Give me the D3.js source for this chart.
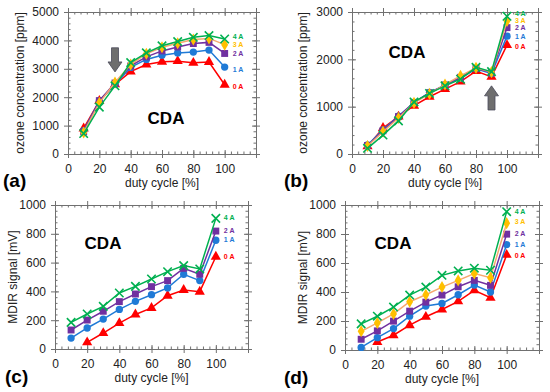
<!DOCTYPE html>
<html>
<head>
<meta charset="utf-8">
<script src="https://cdn.jsdelivr.net/npm/d3@7"></script>
<style>
  body { margin: 0; background: #fff; }
  svg { font-family: "Liberation Sans", Arial, sans-serif; }
</style>
</head>
<body>
<div id="chart"></div>
<script>
// duty cycle values shared by all panels
const duty = [10, 20, 30, 40, 50, 60, 70, 80, 90, 100];
const currents = ["0 A", "1 A", "2 A", "3 A", "4 A"];
const xTicks = [0, 20, 40, 60, 80, 100];

// (a) ozone concentration [ppm]
const ozoneA = [
  [900, 1870, 2450, 2900, 3150, 3250, 3270, 3210, 3240, 2440],
  [820, 1870, 2450, 3050, 3330, 3480, 3560, 3590, 3660, 3060],
  [780, 1880, 2500, 3100, 3420, 3630, 3770, 3890, 3930, 3540],
  [760, 1800, 2520, 3150, 3530, 3760, 3900, 4030, 4070, 3850],
  [720, 1650, 2400, 3220, 3560, 3810, 3960, 4110, 4170, 4050]
];
// (b) ozone concentration [ppm]
const ozoneB = [
  [160, 550, 790, 1020, 1210, 1370, 1530, 1750, 1630, 2300],
  [190, 510, 800, 1080, 1300, 1450, 1600, 1800, 1700, 2490],
  [180, 490, 790, 1090, 1290, 1460, 1620, 1810, 1720, 2670],
  [170, 470, 760, 1080, 1270, 1470, 1650, 1820, 1730, 2810],
  [120, 400, 700, 1100, 1280, 1440, 1580, 1830, 1740, 2910]
];
// (c) MDIR signal [mV], no 3 A series
const mdirC = [
  [null, 46, 111, 180, 240, 285, 370, 410, 398, 641],
  [76, 146, 208, 275, 331, 377, 424, 519, 475, 755],
  [132, 201, 262, 329, 382, 433, 475, 560, 519, 819],
  null,
  [185, 243, 296, 389, 435, 486, 537, 579, 556, 907]
];
// (d) MDIR signal [mV]
const mdirD = [
  [null, 55, 102, 171, 229, 279, 335, 411, 360, 656],
  [18, 85, 148, 233, 303, 321, 381, 448, 400, 727],
  [74, 132, 199, 268, 330, 379, 436, 480, 446, 799],
  [129, 187, 249, 333, 381, 434, 480, 527, 499, 875],
  [180, 233, 296, 379, 434, 515, 545, 564, 550, 954]
];

// where the "n A" labels sit, in y units
const labelsA = [2360, 2990, 3520, 3840, 4120];
const labelsB = [2280, 2490, 2670, 2815, 2960];
const labelsC = [642, 758, 820, null, 910];
const labelsD = [652, 727, 805, 883, 957];

const markerColor = ["#ff0000", "#1f7ad6", "#7030a0", "#ffc000", "#00b050"];
const lineColor = ["#ff0000", "#1f7ad6", "#7030a0", "#f6a86e", "#00b050"];
const symbols = [d3.symbolTriangle, d3.symbolCircle, d3.symbolSquare, d3.symbolDiamond, d3.symbolTimes];
const symbolSize = [45, 42, 48, 42, 48];

const panels = [
  { tag: "(a)", series: ozoneA, labels: labelsA, yMax: 5000, yMajor: 1000, yMinor: 200,
    yTitle: "ozone concentration [ppm]", left: 68, right: 256, top: 12, bottom: 154,
    yTitleX: 20, tagX: 3, tagY: 187, cda: [166, 124], arrow: { x: 30, from: 3740, to: 2890, dir: "down" } },
  { tag: "(b)", series: ozoneB, labels: labelsB, yMax: 3000, yMajor: 1000, yMinor: 200,
    yTitle: "ozone concentration [ppm]", left: 352, right: 538, top: 12, bottom: 154,
    yTitleX: 303, tagX: 284, tagY: 187, cda: [407, 58], arrow: { x: 90, from: 930, to: 1440, dir: "up" } },
  { tag: "(c)", series: mdirC, labels: labelsC, yMax: 1000, yMajor: 200, yMinor: 40,
    yTitle: "MDIR signal [mV]", left: 55, right: 248, top: 205, bottom: 349,
    yTitleX: 13, tagX: 5, tagY: 383, cda: [103, 249] },
  { tag: "(d)", series: mdirD, labels: labelsD, yMax: 1000, yMajor: 200, yMinor: 40,
    yTitle: "MDIR signal [mV]", left: 345, right: 539, top: 205, bottom: 350,
    yTitleX: 303, tagX: 284, tagY: 384, cda: [393, 249] }
];

const width = 550, height = 392;
const axisColor = "#707070";

const svg = d3.select("#chart").append("svg")
  .attr("width", width).attr("height", height);

function drawPanel(p) {
  const g = svg.append("g");
  const x = d3.scaleLinear().domain([0, 120]).range([p.left, p.right]);
  const y = d3.scaleLinear().domain([0, p.yMax]).range([p.bottom, p.top]);
  const xMinor = d3.range(0, 121, 4);
  const yMinor = d3.range(0, p.yMax + 1, p.yMinor);
  const yMajor = d3.range(0, p.yMax + 1, p.yMajor);
  const xMajor = d3.range(0, 121, 20);

  // minor ticks, pointing inward on all four sides
  g.append("g").attr("transform", `translate(0,${p.bottom})`)
    .call(d3.axisBottom(x).tickValues(xMinor).tickSize(-2.5).tickFormat(""));
  g.append("g").attr("transform", `translate(0,${p.top})`)
    .call(d3.axisTop(x).tickValues(xMinor).tickSize(-2.5).tickFormat(""));
  g.append("g").attr("transform", `translate(${p.left},0)`)
    .call(d3.axisLeft(y).tickValues(yMinor).tickSize(-2.5).tickFormat(""));
  g.append("g").attr("transform", `translate(${p.right},0)`)
    .call(d3.axisRight(y).tickValues(yMinor).tickSize(-2.5).tickFormat(""));

  // major ticks crossing the frame
  const xb = g.append("g").attr("transform", `translate(0,${p.bottom})`)
    .call(d3.axisBottom(x).tickValues(xMajor).tickSize(4).tickPadding(6)
      .tickFormat(d => xTicks.includes(d) ? d : ""));
  const xt = g.append("g").attr("transform", `translate(0,${p.top})`)
    .call(d3.axisTop(x).tickValues(xMajor).tickSize(4).tickFormat(""));
  const yl = g.append("g").attr("transform", `translate(${p.left},0)`)
    .call(d3.axisLeft(y).tickValues(yMajor).tickSize(4).tickPadding(5).tickFormat(d3.format("d")));
  const yr = g.append("g").attr("transform", `translate(${p.right},0)`)
    .call(d3.axisRight(y).tickValues(yMajor).tickSize(4).tickFormat(""));
  xb.selectAll(".tick line").attr("y1", -4);
  xt.selectAll(".tick line").attr("y1", 4);
  yl.selectAll(".tick line").attr("x1", 4);
  yr.selectAll(".tick line").attr("x1", -4);

  g.selectAll(".domain").attr("stroke", axisColor);
  g.selectAll(".tick line").attr("stroke", axisColor);
  g.selectAll(".tick text").attr("fill", "#222").style("font-size", "12px");

  // axis titles
  g.append("text")
    .attr("x", (p.left + p.right) / 2).attr("y", p.bottom + 33)
    .attr("text-anchor", "middle").style("font-size", "12px").attr("fill", "#222")
    .text("duty cycle [%]");
  g.append("text")
    .attr("transform", `translate(${p.yTitleX},${(p.top + p.bottom) / 2}) rotate(-90)`)
    .attr("text-anchor", "middle").attr("dy", "0.35em")
    .style("font-size", "12px").attr("fill", "#222")
    .text(p.yTitle);

  // gray arrow
  if (p.arrow) {
    const a = p.arrow;
    const ax = x(a.x), y0 = y(a.from), y1 = y(a.to);
    const s = a.dir === "down" ? 1 : -1;
    const headLen = 10 * s;
    const pts = [
      [ax - 3.5, y0], [ax + 3.5, y0], [ax + 3.5, y1 - headLen], [ax + 7, y1 - headLen],
      [ax, y1], [ax - 7, y1 - headLen], [ax - 3.5, y1 - headLen]
    ];
    g.append("path").attr("d", d3.line()(pts) + "Z")
      .attr("fill", "#6e6e6e").attr("stroke", "#4a4a5a").attr("stroke-width", 0.8);
  }

  // series lines and markers
  const line = d3.line()
    .defined(d => d[1] != null)
    .x(d => x(d[0])).y(d => y(d[1]));
  p.series.forEach(function (vals, i) {
    if (!vals) return;
    const pts = duty.map((d, j) => [d, vals[j]]);
    g.append("path").datum(pts)
      .attr("d", line).attr("fill", "none")
      .attr("stroke", lineColor[i]).attr("stroke-width", 1.5);
    g.selectAll(null).data(pts.filter(d => d[1] != null)).enter()
      .append("path")
      .attr("transform", d => `translate(${x(d[0])},${y(d[1])})`)
      .attr("d", d3.symbol().type(symbols[i]).size(symbolSize[i]))
      .attr("fill", i === 4 ? "none" : markerColor[i])
      .attr("stroke", markerColor[i])
      .attr("stroke-width", i === 4 ? 1.6 : 0);
  });

  // current labels
  p.labels.forEach(function (v, i) {
    if (v == null) return;
    g.append("text")
      .attr("x", x(100) + 8).attr("y", y(v)).attr("dy", "0.35em")
      .style("font-size", "7px").style("font-weight", "bold")
      .attr("fill", markerColor[i])
      .text(currents[i]);
  });

  g.append("text")
    .attr("x", p.cda[0]).attr("y", p.cda[1]).attr("text-anchor", "middle")
    .style("font-size", "17px").style("font-weight", "bold").attr("fill", "#000")
    .text("CDA");

  g.append("text")
    .attr("x", p.tagX).attr("y", p.tagY)
    .style("font-size", "19px").style("font-weight", "bold").attr("fill", "#000")
    .text(p.tag);
}

panels.forEach(drawPanel);
</script>
</body>
</html>
